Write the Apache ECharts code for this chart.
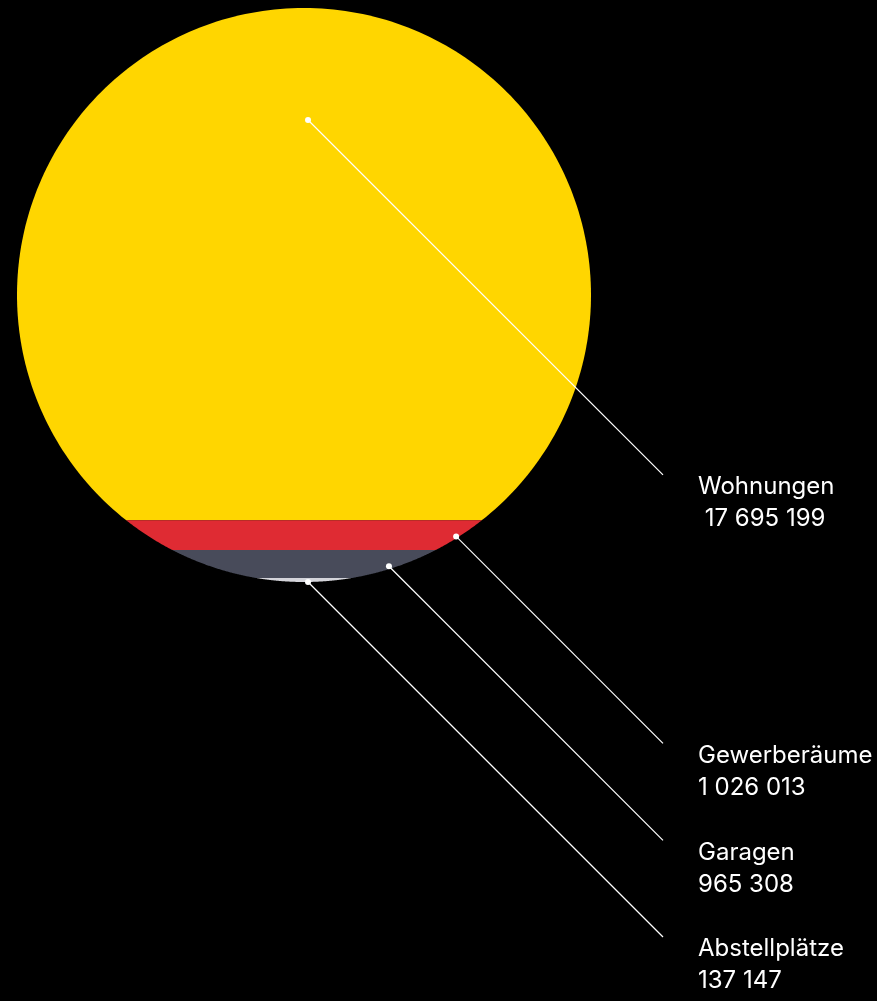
<!DOCTYPE html>
<html>
<head>
<meta charset="utf-8">
<script src="https://cdn.jsdelivr.net/npm/echarts@6/dist/echarts.min.js"></script>
<style>
  html, body { margin: 0; background: #000; }
  #chart { width: 877px; height: 1001px; }
</style>
</head>
<body>
<div id="chart"></div>
<script>
const categories = ['Wohnungen', 'Gewerberäume', 'Garagen', 'Abstellplätze']
const values = [17695199, 1026013, 965308, 137147]
const colors = ['#ffd600', '#df2b33', '#484b5a', '#d4d4da']
// where the leader line starts inside each band: x as share of radius, y as share of band height
const anchorX = [0.014, 0.53, 0.296, 0.014]
const anchorT = [0.2185, 0.54, 0.58, 1]
const valuePrefix = [' ', '', '', '']

const total = values.reduce((a, b) => a + b, 0)
const bands = []
let acc = 0
values.forEach((v, i) => {
  bands.push([0, acc, acc + v])
  acc += v
})

const fmt = n => String(n).replace(/\B(?=(\d{3})+(?!\d))/g, ' ')

// circle geometry from the axes
const geom = api => {
  const top = api.coord([0, 0])
  const bottom = api.coord([0, total])
  const r = (bottom[1] - top[1]) / 2
  return { cx: top[0], cy: top[1] + r, r }
}

const renderBand = (params, api) => {
  const { cx, cy, r } = geom(api)
  const y1 = api.coord([0, api.value(1)])[1]
  const y2 = api.coord([0, api.value(2)])[1]
  const clamp = v => Math.max(-1, Math.min(1, v))
  const a1 = Math.asin(clamp((y1 - cy) / r))
  const a2 = Math.asin(clamp((y2 - cy) / r))
  const pts = []
  const steps = 120
  for (let k = 0; k <= steps; k++) {
    const a = a1 + (a2 - a1) * k / steps
    pts.push([cx + r * Math.cos(a), cy + r * Math.sin(a)])
  }
  for (let k = steps; k >= 0; k--) {
    const a = a1 + (a2 - a1) * k / steps
    pts.push([cx - r * Math.cos(a), cy + r * Math.sin(a)])
  }
  return {
    type: 'polygon',
    shape: { points: pts },
    style: { fill: colors[params.dataIndex] }
  }
}

const renderLabel = (params, api) => {
  const i = params.dataIndex
  const { cx, r } = geom(api)
  const y1 = api.coord([0, api.value(1)])[1]
  const y2 = api.coord([0, api.value(2)])[1]
  const ax = cx + anchorX[i] * r
  const ay = y1 + anchorT[i] * (y2 - y1)
  const ex = cx + r + 72
  const ey = ay + (ex - ax)
  return {
    type: 'group',
    children: [
      {
        type: 'line',
        shape: { x1: ax, y1: ay, x2: ex, y2: ey },
        style: { stroke: '#fff', lineWidth: 1.2 }
      },
      {
        type: 'circle',
        shape: { cx: ax, cy: ay, r: 3 },
        style: { fill: '#fff' }
      },
      {
        type: 'text',
        x: ex + 35,
        y: ey - 4,
        style: {
          text: categories[i] + '\n' + valuePrefix[i] + fmt(values[i]),
          fill: '#fff',
          font: '24px Inter',
          lineHeight: 32,
          verticalAlign: 'top',
          align: 'left'
        }
      }
    ]
  }
}

const chart = echarts.init(document.getElementById('chart'))
chart.setOption({
  backgroundColor: '#000',
  animation: false,
  grid: { left: 17, top: 8, width: 574, height: 574 },
  xAxis: { type: 'value', min: -1, max: 1, show: false },
  yAxis: { type: 'value', min: 0, max: total, inverse: true, show: false },
  series: [
    {
      type: 'custom',
      renderItem: renderBand,
      data: bands,
      encode: { x: 0, y: [1, 2] },
      clip: false,
      silent: true,
      z: 2
    },
    {
      type: 'custom',
      renderItem: renderLabel,
      data: bands,
      encode: { x: 0, y: [1, 2] },
      clip: false,
      silent: true,
      z: 3
    }
  ]
})
</script>
</body>
</html>
